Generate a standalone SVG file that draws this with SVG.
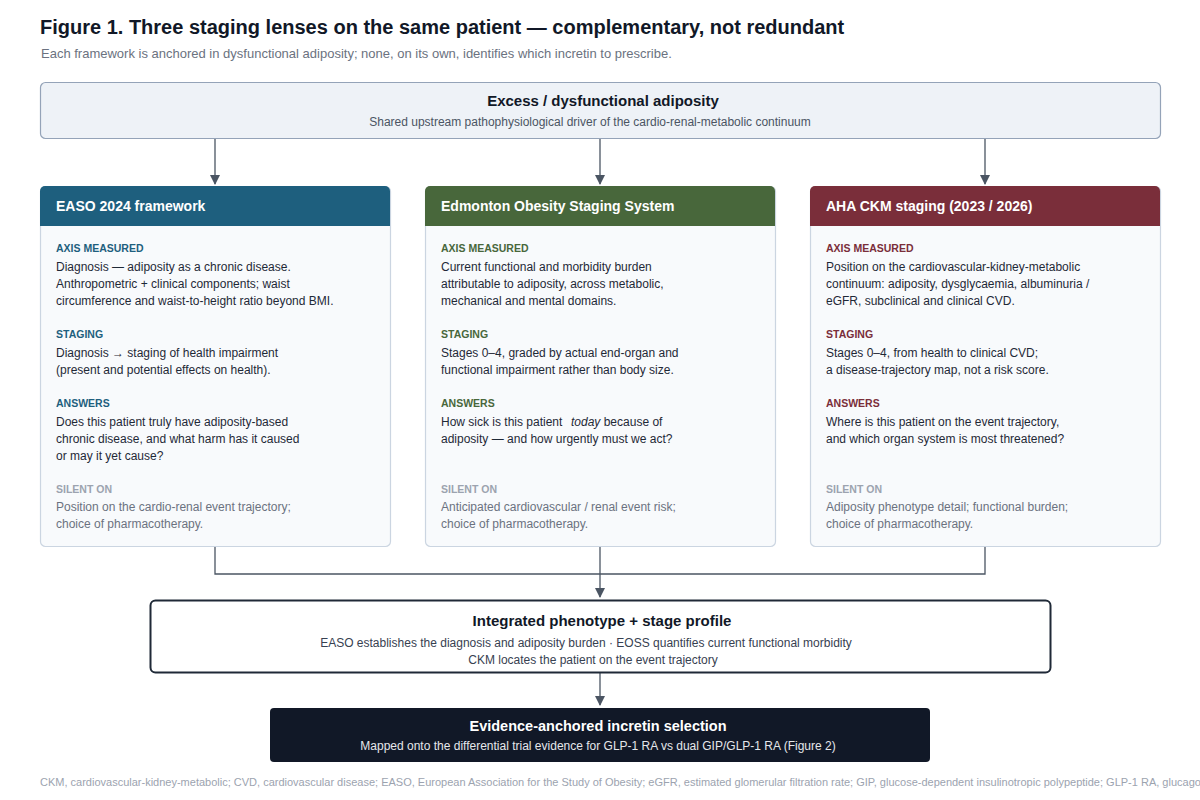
<svg xmlns="http://www.w3.org/2000/svg" width="1200" height="800" viewBox="0 0 1200 800">
<style>
text{font-family:"Liberation Sans",Arial,sans-serif}
.title{font-size:20px;font-weight:bold;fill:#111827}
.sub{font-size:13px;fill:#6b7280}
.card{fill:#f8fafc;stroke:#cbd5e1;stroke-width:1.2}
.hd{font-size:14px;font-weight:bold;fill:#fff}
.lab{font-size:10.5px;font-weight:bold}
.body{font-size:12px;fill:#1f2937}
.sil{font-size:10.5px;font-weight:bold;fill:#9ca3af}
.silb{font-size:12px;fill:#6b7280}
.conn{fill:none;stroke:#4b5563;stroke-width:1.3}
</style>
<defs>
<marker id="ah" viewBox="0 0 10 10" refX="9" refY="5" markerWidth="10" markerHeight="10" markerUnits="userSpaceOnUse" orient="auto"><path d="M0,0L10,5L0,10z" fill="#4b5563"/></marker>
</defs>
<rect width="1200" height="800" fill="#fff"/>
<text x="40" y="34" class="title">Figure 1. Three staging lenses on the same patient — complementary, not redundant</text>
<text x="41" y="58" class="sub">Each framework is anchored in dysfunctional adiposity; none, on its own, identifies which incretin to prescribe.</text>

<g id="top">
<rect x="40.5" y="82.5" width="1120" height="56" rx="5" fill="#eef2f7" stroke="#94a3b8" stroke-width="1.2"/>
<text x="603" y="106" text-anchor="middle" font-size="15" font-weight="bold" fill="#111827">Excess / dysfunctional adiposity</text>
<text x="590" y="126" text-anchor="middle" font-size="12" fill="#4b5563">Shared upstream pathophysiological driver of the cardio-renal-metabolic continuum</text>
</g>

<g id="connectors">
<path class="conn" d="M215,139V184" marker-end="url(#ah)"/>
<path class="conn" d="M600,139V184" marker-end="url(#ah)"/>
<path class="conn" d="M985,139V184" marker-end="url(#ah)"/>
<path class="conn" d="M215,547V574H985V547"/>
<path class="conn" d="M600,547V597" marker-end="url(#ah)"/>
<path class="conn" d="M600,673V705" marker-end="url(#ah)"/>
</g>

<g id="easo">
<rect class="card" x="40.5" y="186.5" width="350" height="360" rx="5"/>
<path d="M40,226V191a5,5 0 0 1 5,-5H385a5,5 0 0 1 5,5V226z" fill="#1e5f7e"/>
<text x="56" y="211" class="hd">EASO 2024 framework</text>
<g fill="#1e5f7e"><text x="56" y="252" class="lab">AXIS MEASURED</text><text x="56" y="338" class="lab">STAGING</text><text x="56" y="407" class="lab">ANSWERS</text></g>
<text class="body"><tspan x="56" y="271">Diagnosis — adiposity as a chronic disease.</tspan><tspan x="56" y="288">Anthropometric + clinical components; waist</tspan><tspan x="56" y="305">circumference and waist-to-height ratio beyond BMI.</tspan></text>
<text class="body"><tspan x="56" y="357">Diagnosis → staging of health impairment</tspan><tspan x="56" y="374">(present and potential effects on health).</tspan></text>
<text class="body"><tspan x="56" y="426">Does this patient truly have adiposity-based</tspan><tspan x="56" y="443">chronic disease, and what harm has it caused</tspan><tspan x="56" y="460">or may it yet cause?</tspan></text>
<text x="56" y="493" class="sil">SILENT ON</text>
<text class="silb"><tspan x="56" y="511">Position on the cardio-renal event trajectory;</tspan><tspan x="56" y="528">choice of pharmacotherapy.</tspan></text>
</g>

<g id="eoss">
<rect class="card" x="425.5" y="186.5" width="350" height="360" rx="5"/>
<path d="M425,226V191a5,5 0 0 1 5,-5H770a5,5 0 0 1 5,5V226z" fill="#48673b"/>
<text x="441" y="211" class="hd">Edmonton Obesity Staging System</text>
<g fill="#48673b"><text x="441" y="252" class="lab">AXIS MEASURED</text><text x="441" y="338" class="lab">STAGING</text><text x="441" y="407" class="lab">ANSWERS</text></g>
<text class="body"><tspan x="441" y="271">Current functional and morbidity burden</tspan><tspan x="441" y="288">attributable to adiposity, across metabolic,</tspan><tspan x="441" y="305">mechanical and mental domains.</tspan></text>
<text class="body"><tspan x="441" y="357">Stages 0–4, graded by actual end-organ and</tspan><tspan x="441" y="374">functional impairment rather than body size.</tspan></text>
<text class="body"><tspan x="441" y="426">How sick is this patient </tspan><tspan x="571" y="426" font-style="italic">today</tspan><tspan> because of</tspan><tspan x="441" y="443">adiposity — and how urgently must we act?</tspan></text>
<text x="441" y="493" class="sil">SILENT ON</text>
<text class="silb"><tspan x="441" y="511">Anticipated cardiovascular / renal event risk;</tspan><tspan x="441" y="528">choice of pharmacotherapy.</tspan></text>
</g>

<g id="ckm">
<rect class="card" x="810.5" y="186.5" width="350" height="360" rx="5"/>
<path d="M810,226V191a5,5 0 0 1 5,-5H1155a5,5 0 0 1 5,5V226z" fill="#7a2e3a"/>
<text x="826" y="211" class="hd">AHA CKM staging (2023 / 2026)</text>
<g fill="#7a2e3a"><text x="826" y="252" class="lab">AXIS MEASURED</text><text x="826" y="338" class="lab">STAGING</text><text x="826" y="407" class="lab">ANSWERS</text></g>
<text class="body"><tspan x="826" y="271">Position on the cardiovascular-kidney-metabolic</tspan><tspan x="826" y="288">continuum: adiposity, dysglycaemia, albuminuria /</tspan><tspan x="826" y="305">eGFR, subclinical and clinical CVD.</tspan></text>
<text class="body"><tspan x="826" y="357">Stages 0–4, from health to clinical CVD;</tspan><tspan x="826" y="374">a disease-trajectory map, not a risk score.</tspan></text>
<text class="body"><tspan x="826" y="426">Where is this patient on the event trajectory,</tspan><tspan x="826" y="443">and which organ system is most threatened?</tspan></text>
<text x="826" y="493" class="sil">SILENT ON</text>
<text class="silb"><tspan x="826" y="511">Adiposity phenotype detail; functional burden;</tspan><tspan x="826" y="528">choice of pharmacotherapy.</tspan></text>
</g>

<g id="integrated">
<rect x="150.5" y="600.5" width="900" height="72" rx="5" fill="#fff" stroke="#1f2937" stroke-width="2"/>
<text x="602" y="626" text-anchor="middle" font-size="15" font-weight="bold" fill="#111827">Integrated phenotype + stage profile</text>
<text x="586" y="647" text-anchor="middle" font-size="12" fill="#374151">EASO establishes the diagnosis and adiposity burden · EOSS quantifies current functional morbidity</text>
<text x="593" y="664" text-anchor="middle" font-size="12" fill="#374151">CKM locates the patient on the event trajectory</text>
</g>

<g id="selection">
<rect x="270" y="708" width="660" height="54" rx="4" fill="#111827"/>
<text x="598" y="731" text-anchor="middle" font-size="14.5" font-weight="bold" fill="#fff">Evidence-anchored incretin selection</text>
<text x="598" y="750" text-anchor="middle" font-size="12" fill="#e5e7eb">Mapped onto the differential trial evidence for GLP-1 RA vs dual GIP/GLP-1 RA (Figure 2)</text>
</g>

<text x="40" y="786" font-size="11" fill="#9ca3af">CKM, cardiovascular-kidney-metabolic; CVD, cardiovascular disease; EASO, European Association for the Study of Obesity; eGFR, estimated glomerular filtration rate; GIP, glucose-dependent insulinotropic polypeptide; GLP-1 RA, glucago</text>
</svg>
